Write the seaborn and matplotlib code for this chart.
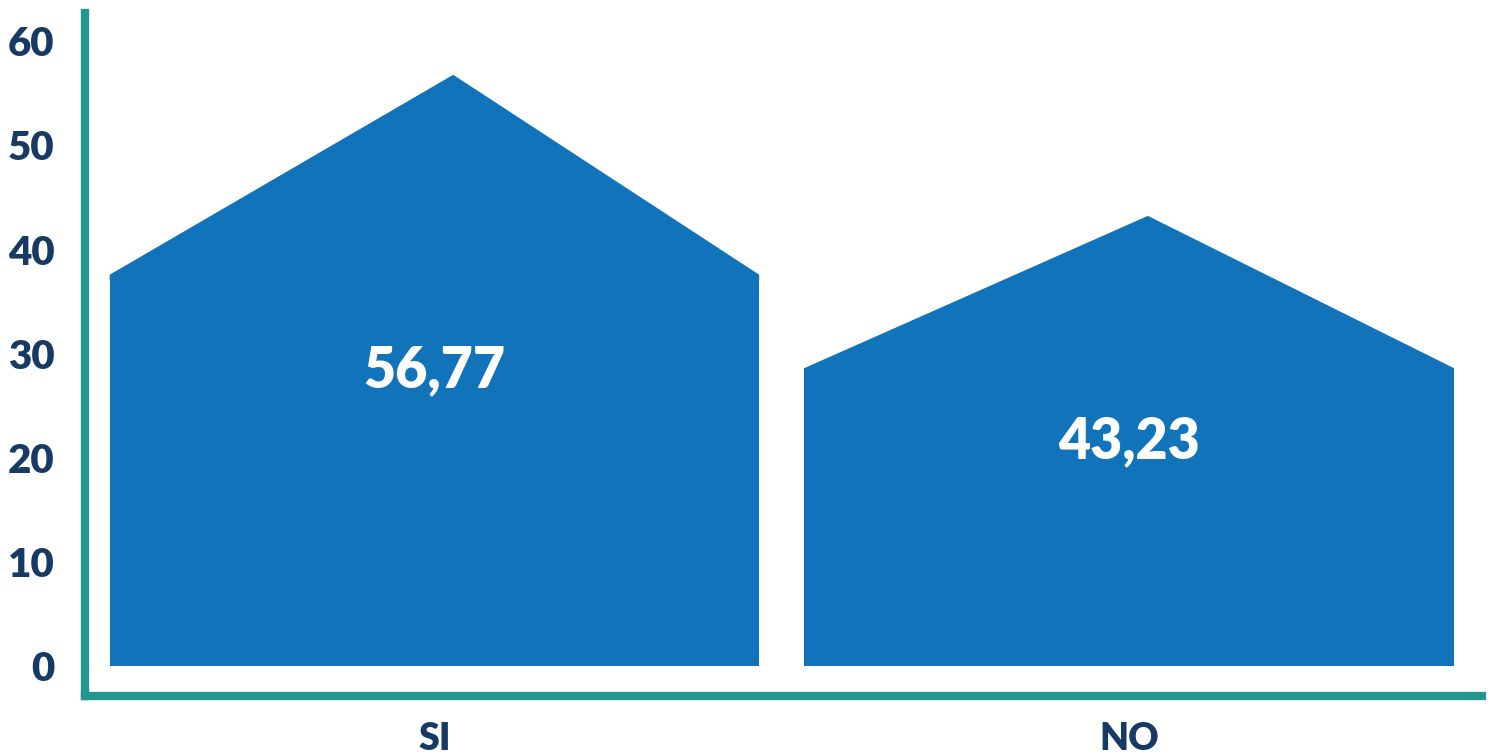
import matplotlib
matplotlib.use("Agg")
import matplotlib.pyplot as plt
import seaborn as sns
import pandas as pd

categories = ["SI", "NO"]
values = [56.77, 43.23]
value_labels = ["56,77", "43,23"]
y_ticks = [0, 10, 20, 30, 40, 50, 60]

BAR = "#1174bb"
TEAL = "#23968f"
NAVY = "#173a64"
SHOULDER = 0.662   # walls of the "house" reach 66% of the value
PEAK_SHIFT = 0.027  # roof apex sits slightly right of centre
WIDTH = 0.935

sns.set_style("white")
plt.rcParams["font.family"] = ["Lato", "DejaVu Sans"]

df = pd.DataFrame({"cat": categories, "value": values})
df["wall"] = df["value"] * SHOULDER

fig = plt.figure(figsize=(14.94, 7.54), dpi=100)
ax = fig.add_axes([85 / 1494, 1 - 695.5 / 754, (1482 - 85) / 1494, (695.5 - 13) / 754])

# walls drawn as bars
sns.barplot(data=df, x="cat", y="wall", color=BAR, width=WIDTH,
            saturation=1, ax=ax, linewidth=0)

# roofs on top of each bar (base tucked a little into the wall to hide the seam)
for i, row in df.iterrows():
    left, right = i - WIDTH / 2, i + WIDTH / 2
    ax.fill([left, i + PEAK_SHIFT, right, right, left],
            [row["wall"], row["value"], row["wall"], row["wall"] - 0.5, row["wall"] - 0.5],
            facecolor=BAR, linewidth=0)
    ax.text(i, row["value"] / 2, value_labels[i], ha="center", va="center",
            color="white", fontsize=40, fontweight="heavy")

ax.set_xlim(-0.503, 1.508)
ax.set_ylim(-2.8, 62.7)
ax.set_yticks(y_ticks)
ax.set_xlabel("")
ax.set_ylabel("")

ax.tick_params(axis="y", length=0, pad=22, labelsize=29, labelcolor=NAVY)
ax.tick_params(axis="x", length=0, pad=19, labelsize=27, labelcolor=NAVY)
for lab in ax.get_xticklabels() + ax.get_yticklabels():
    lab.set_fontweight("heavy")

sns.despine(ax=ax)
for side in ["left", "bottom"]:
    ax.spines[side].set_color(TEAL)
    ax.spines[side].set_linewidth(6)
    ax.spines[side].set_capstyle("projecting")

fig.savefig("out.png", dpi=100)
